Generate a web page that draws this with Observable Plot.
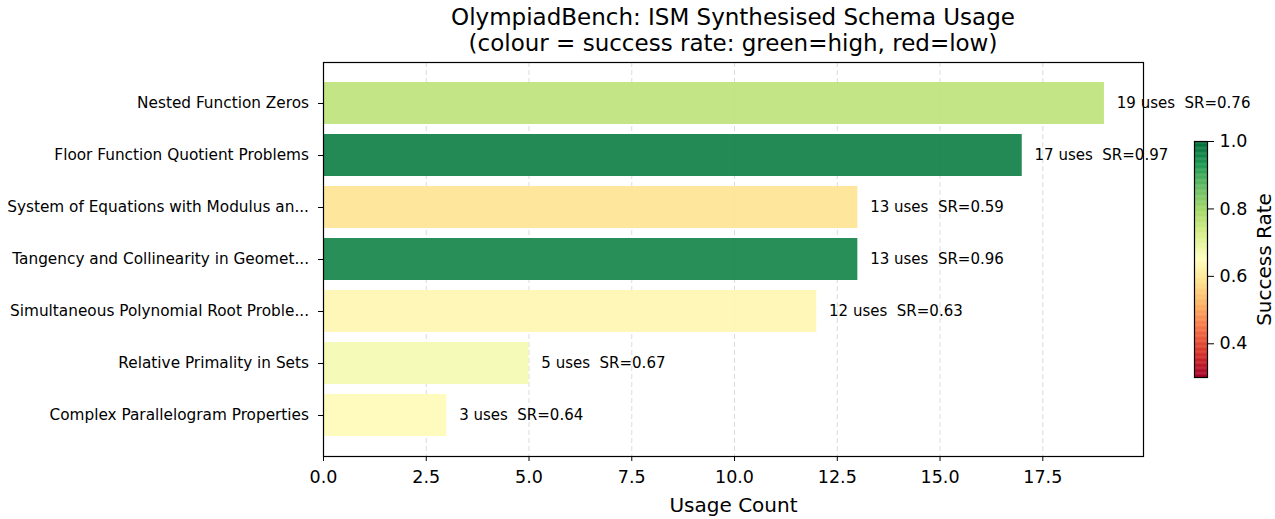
<!DOCTYPE html>
<html>
<head>
<meta charset="utf-8">
<script src="https://cdn.jsdelivr.net/npm/d3@7"></script>
<script src="https://cdn.jsdelivr.net/npm/@observablehq/plot@0.6"></script>
<style>
  html, body { margin: 0; padding: 0; background: #fff; }
  #wrap { position: relative; width: 1275px; height: 519px; font-family: "DejaVu Sans", sans-serif; }
  #wrap svg { position: absolute; left: 0; top: 0; }
  #title { position: absolute; left: 323px; width: 820px; top: 4px; text-align: center;
           font-size: 23px; line-height: 26px; color: #000; z-index: 3; }
</style>
</head>
<body>
<div id="wrap">
  <div id="title">OlympiadBench: ISM Synthesised Schema Usage<br>(colour = success rate: green=high, red=low)</div>
</div>
<script>
// ---- data ----
const schemaNames = [
  "Nested Function Zeros",
  "Floor Function Quotient Problems",
  "System of Equations with Modulus an...",
  "Tangency and Collinearity in Geomet...",
  "Simultaneous Polynomial Root Proble...",
  "Relative Primality in Sets",
  "Complex Parallelogram Properties"
];
const usageCounts = [19, 17, 13, 13, 12, 5, 3];
const successRates = [0.76, 0.97, 0.59, 0.96, 0.63, 0.67, 0.64];
const xTicks = [0, 2.5, 5, 7.5, 10, 12.5, 15, 17.5];
const colorTicks = [0.4, 0.6, 0.8, 1.0];
const colorDomain = [0.3, 1.0];
// RdYlGn colour stops (red = low, green = high)
const rdYlGnColors = ["#a50026", "#d73027", "#f46d43", "#fdae61", "#fee08b", "#ffffbf",
                      "#d9ef8b", "#a6d96a", "#66bd63", "#1a9850", "#006837"];

const rows = schemaNames.map((name, i) => ({name, count: usageCounts[i], rate: successRates[i]}));
const stopDomain = rdYlGnColors.map((c, i) => colorDomain[0] + (colorDomain[1] - colorDomain[0]) * i / (rdYlGnColors.length - 1));
const colorScale = {type: "linear", domain: stopDomain, range: rdYlGnColors, interpolate: "rgb", clamp: true};
const font = "DejaVu Sans";

const main = Plot.plot({
  width: 1275,
  height: 519,
  marginLeft: 323,
  marginRight: 132,
  marginTop: 62,
  marginBottom: 63,
  style: {fontFamily: font, fontSize: "15px", color: "#000", background: "white"},
  x: {domain: [0, 19.95]},
  y: {domain: schemaNames, paddingInner: 0.2, paddingOuter: 0.34, align: 0.5},
  color: colorScale,
  marks: [
    Plot.gridX({ticks: xTicks, stroke: "#b0b0b0", strokeOpacity: 0.45, strokeDasharray: "5,3", strokeWidth: 1}),
    Plot.barX(rows, {x: "count", y: "name", fill: "rate", fillOpacity: 0.9}),
    Plot.text(rows, {
      x: d => d.count + 0.3, y: "name",
      text: d => `${d.count} uses\u00a0\u00a0SR=${d.rate.toFixed(2)}`,
      textAnchor: "start", fontSize: 15, fill: "#000"
    }),
    Plot.frame({stroke: "#000", strokeWidth: 1.2}),
    Plot.axisX({ticks: xTicks, tickFormat: d3.format(".1f"), tickSize: 5, tickPadding: 9, fontSize: 17.5, label: null}),
    Plot.axisY({tickSize: 5, tickPadding: 9.5, fontSize: 15.3, label: null}),
    Plot.text(["Usage Count"], {frameAnchor: "bottom", dy: 55, lineAnchor: "bottom", fontSize: 20, fill: "#000"})
  ]
});

const cbarSteps = d3.range(colorDomain[0], colorDomain[1], 0.0025);
const cbar = Plot.plot({
  width: 1275,
  height: 519,
  marginLeft: 1194,
  marginRight: 68,
  marginTop: 141,
  marginBottom: 142,
  style: {fontFamily: font, fontSize: "17.5px", color: "#000", background: "transparent"},
  x: {domain: [0, 1], axis: null},
  y: {domain: colorDomain},
  color: colorScale,
  marks: [
    Plot.rect(cbarSteps, {x1: 0, x2: 1, y1: d => d, y2: d => Math.min(d + 0.0035, colorDomain[1]), fill: d => d}),
    Plot.frame({stroke: "#000", strokeWidth: 1.2}),
    Plot.axisY({anchor: "right", ticks: colorTicks, tickFormat: d3.format(".1f"), tickSize: 6, tickPadding: 6, fontSize: 17.5, label: null}),
    Plot.text(["Success Rate"], {frameAnchor: "right", dx: 63, rotate: -90, textAnchor: "middle", lineAnchor: "bottom", fontSize: 20, fill: "#000"})
  ]
});

const wrap = document.getElementById("wrap");
wrap.appendChild(main);
wrap.appendChild(cbar);
</script>
</body>
</html>
